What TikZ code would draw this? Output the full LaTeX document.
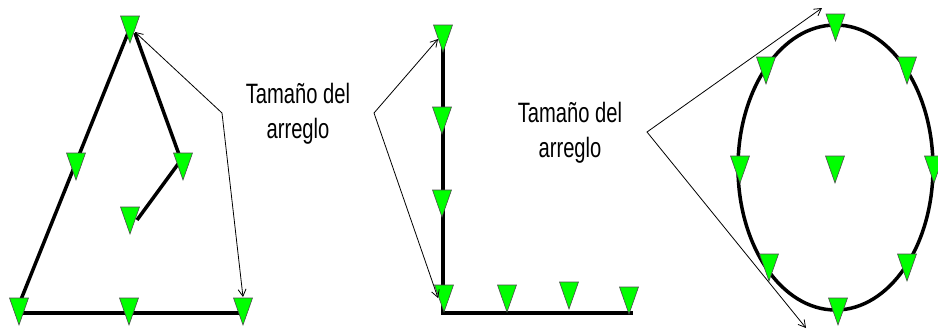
\documentclass[tikz,border=0pt]{standalone}
\usepackage{fontspec}
\newfontfamily\narrowf{Liberation Sans}[FakeStretch=0.72]
\usetikzlibrary{arrows.meta}
\definecolor{trigreen}{RGB}{0,255,0}
\begin{document}
\begin{tikzpicture}[x=1pt,y=-1pt,
  wire/.style={line width=3.5pt},
  dim/.style={line width=0.8pt,{Straight Barb[length=7pt,width=8pt]}-{Straight Barb[length=7pt,width=8pt]}},
  lbl/.style={font=\narrowf\fontsize{28}{35}\selectfont, align=center, inner sep=0pt},
  tri/.pic={\draw[fill=trigreen, draw=black!70, line width=0.6pt, line join=miter] (-9.5,0) -- (9.5,0) -- (0,27) -- cycle;}
]
\useasboundingbox (0,0) rectangle (938,330);
\clip (0,0) rectangle (938,330);

% ---------- panel 1 ----------
\coordinate (a1) at (130,16);
\coordinate (a2) at (76,153);
\coordinate (a3) at (183,153);
\coordinate (a4) at (130,207);
\coordinate (a5) at (19,298);
\coordinate (a6) at (129,298);
\coordinate (a7) at (243,298);
\coordinate (w1) at (128,33);
\coordinate (w2) at (20,302);
\coordinate (w3) at (135,33);
\coordinate (w4) at (181,160);
\coordinate (w5) at (137,220);
\coordinate (w6) at (20,313);
\coordinate (w7) at (243,313);
\draw[wire] (w1) -- (w2);
\draw[wire, line join=round] (w3) -- (w4) -- (w5);
\draw[wire] (w6) -- (w7);
\foreach \n in {a1,a2,a3,a4,a5,a6,a7} \pic at (\n) {tri};
\coordinate (k1) at (222,113);
\coordinate (e1) at (135,32);
\coordinate (e2) at (243,297);
\draw[dim] (e1) -- (k1) -- (e2);
\node[lbl, anchor=base] (t1) at (298,138) {Tamaño del\\arreglo};

% ---------- panel 2 ----------
\coordinate (b1) at (443,25);
\coordinate (b2) at (442,107);
\coordinate (b3) at (442,190);
\coordinate (b4) at (444,285);
\coordinate (b5) at (507,285);
\coordinate (b6) at (569,282);
\coordinate (b7) at (629,287);
\coordinate (v1) at (443,40);
\coordinate (v2) at (443,313);
\coordinate (v3) at (633,313);
\draw[wire, line join=miter] (v1) -- (v2) -- (v3);
\foreach \n in {b1,b2,b3,b4,b5,b6,b7} \pic at (\n) {tri};
\coordinate (k2) at (374,113);
\coordinate (f1) at (438,39);
\coordinate (f2) at (438,298);
\draw[dim] (f1) -- (k2) -- (f2);
\node[lbl, anchor=base] (t2) at (570,157) {Tamaño del\\arreglo};

% ---------- panel 3 ----------
\coordinate (oc) at (835.5,167.5);
\draw[wire] (oc) ellipse [x radius=97.5, y radius=142.5];
\coordinate (c1) at (835.5,14);
\coordinate (c2) at (766,57);
\coordinate (c3) at (907,57);
\coordinate (c4) at (740,156);
\coordinate (c5) at (835,156);
\coordinate (c6) at (934,156);
\coordinate (c7) at (769,254);
\coordinate (c8) at (907,254);
\coordinate (c9) at (838,298);
\foreach \n in {c1,c2,c3,c4,c5,c6,c7,c8,c9} \pic at (\n) {tri};
\coordinate (k3) at (647,132);
\coordinate (g1) at (822,8);
\coordinate (g2) at (806,328);
\draw[dim] (g1) -- (k3) -- (g2);
\end{tikzpicture}
\end{document}
